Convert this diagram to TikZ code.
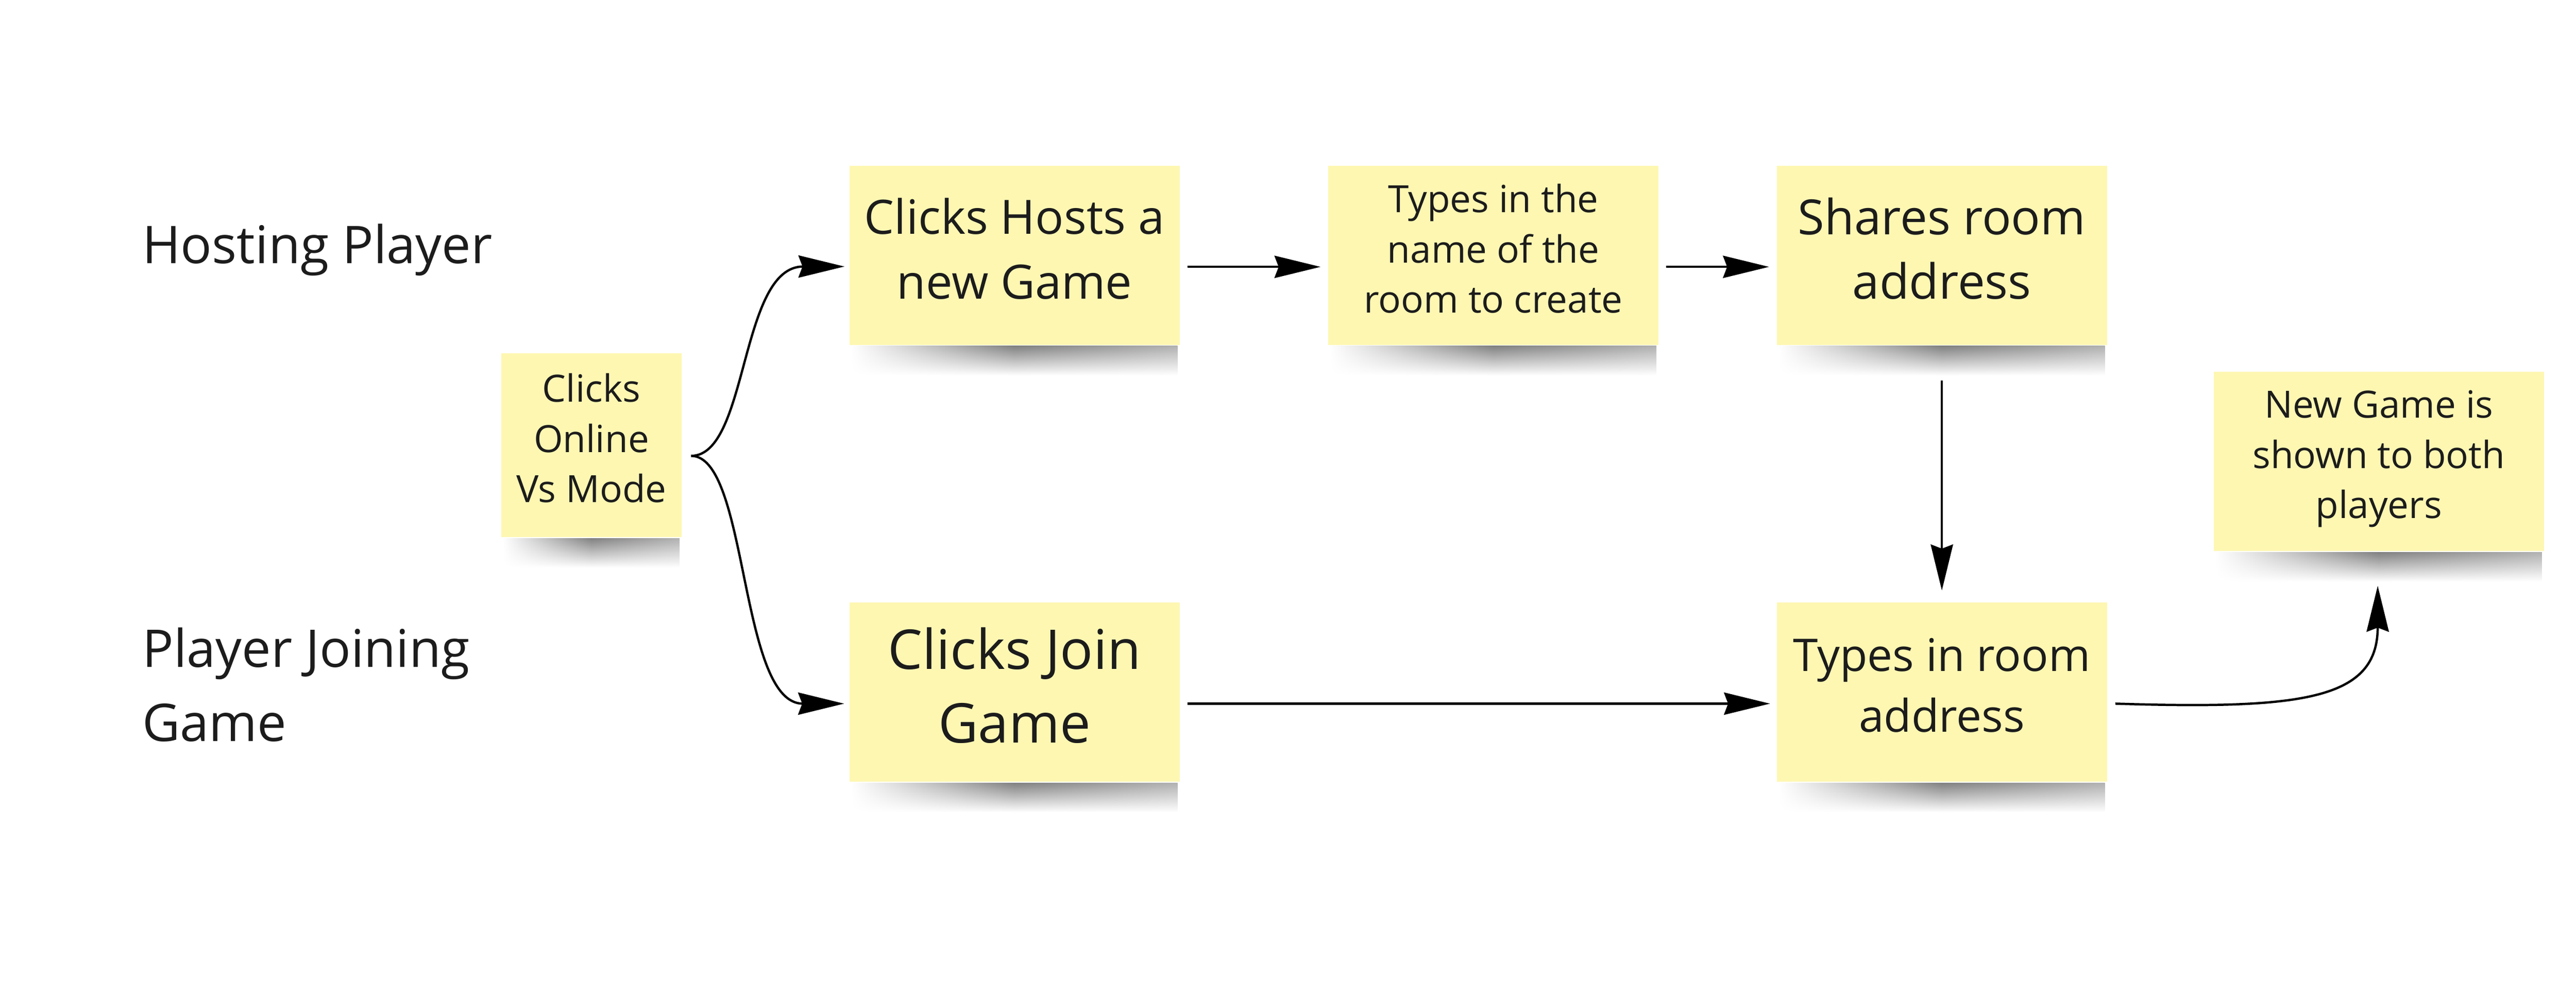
\documentclass[tikz,border=0pt]{standalone}
\usepackage{fontspec}
\setmainfont{Open Sans}
\usetikzlibrary{arrows.meta,fadings}

% weiche Enden fuer die Schatten
\tikzfading[name=softends, left color=transparent!100, right color=transparent!45, middle color=transparent!10]

\begin{document}
\begin{tikzpicture}[x=0.1mm, y=-0.1mm, align=center,
    note/.style={fill=sticky, text=ink, inner sep=0pt, text depth=0.85mm, minimum width=20.1mm, minimum height=10.9mm},
    lane/.style={text=ink, align=left, inner sep=0pt, font=\fontsize{9.0}{12.8}\selectfont},
    flow/.style={draw=black, line width=0.4pt, -{Stealth[length=2.8mm, width=1.35mm, inset=0.25mm]}},
    shadowstrip/.style={top color=black!55, middle color=black!18, bottom color=white, path fading=softends}]

        % Farben
        \definecolor{sticky}{RGB}{254,247,178}
        \definecolor{ink}{RGB}{28,28,28}

        \useasboundingbox (0,0) rectangle (1568,608.2);

        % Bahnen
        \node[lane, anchor=base west] (hostlane) at (86,160.4) {Hosting Player};
        \node[lane, anchor=base west] (joinlane) at (86,451.3) {Player Joining\\Game};

        % Zettel
        \node[note, minimum width=11mm, minimum height=11.2mm, font=\fontsize{6.5}{8.7}\selectfont]
            (online) at (360,271) {Clicks\\Online\\Vs Mode};
        \node[note, font=\fontsize{8.2}{11.2}\selectfont] (hosts) at (617.5,155.5) {Clicks Hosts a\\new Game};
        \node[note, font=\fontsize{6.5}{8.7}\selectfont] (name) at (909,155.5) {Types in the\\name of the\\room to create};
        \node[note, font=\fontsize{8.4}{11.2}\selectfont] (shares) at (1182,155.5) {Shares room\\address};
        \node[note, font=\fontsize{9.5}{12.8}\selectfont] (join) at (617.5,421.5) {Clicks Join\\Game};
        \node[note, font=\fontsize{7.8}{10.5}\selectfont] (room) at (1182,421.5) {Types in room\\address};
        \node[note, font=\fontsize{6.5}{8.7}\selectfont] (newgame) at (1448,281) {New Game is\\shown to both\\players};

        % Schatten
        \foreach \n in {online,hosts,name,shares,join,room,newgame} {
            \shade[shadowstrip] ([shift={(2,0)}]\n.south west) rectangle ([shift={(-2,18)}]\n.south east);
        }

        % Verbindungen
        \draw[flow] ([shift={(5,6.6)}]online.east) .. controls +(35,0) and +(-64,0) .. ([shift={(-2.3,6.8)}]hosts.west);
        \draw[flow] ([shift={(5,6.6)}]online.east) .. controls +(35,0) and +(-64,0) .. ([shift={(-2.5,7)}]join.west);
        \draw[flow] ([shift={(4,7)}]hosts.east) -- ([shift={(-4,7)}]name.west);
        \draw[flow] ([shift={(4,7)}]name.east) -- ([shift={(-4,7)}]shares.west);
        \draw[flow] ([shift={(0,21)}]shares.south) -- ([shift={(0,-6.7)}]room.north);
        \draw[flow] ([shift={(4,7)}]join.east) -- ([shift={(-3.4,7)}]room.west);
        \draw[flow] ([shift={(4.4,7)}]room.east) .. controls +(114,3.5) and +(0,69.5) .. ([shift={(-0.7,20.5)}]newgame.south);

\end{tikzpicture}
\end{document}
